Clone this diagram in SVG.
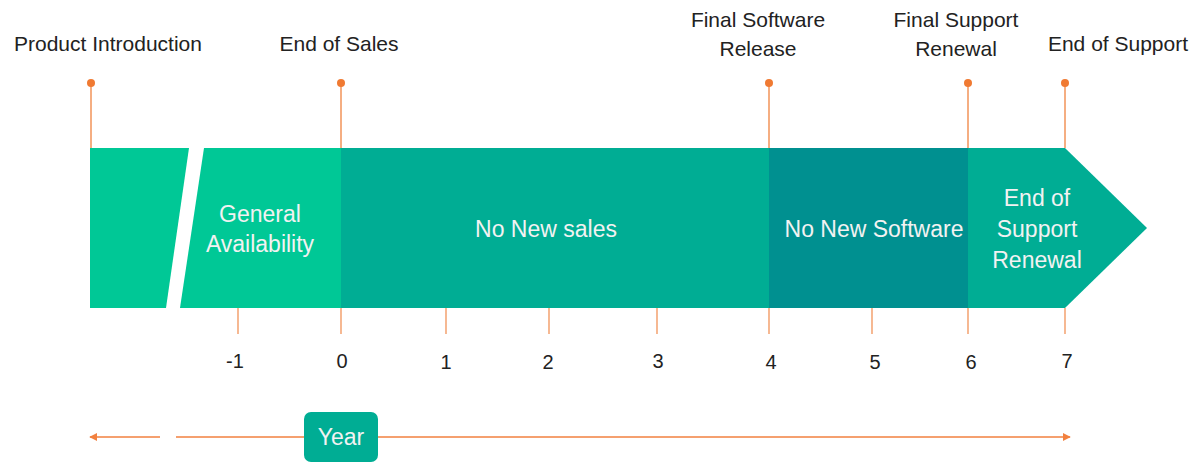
<svg xmlns="http://www.w3.org/2000/svg" width="1198" height="463" viewBox="0 0 1198 463">
<defs>
<style>
.lbl{font-family:"Liberation Sans",Arial,sans-serif;font-size:21px;fill:#222;text-anchor:middle}
.in{font-family:"Liberation Sans",Arial,sans-serif;font-size:23px;fill:#F2F2F2;text-anchor:middle}
.num{font-family:"Liberation Sans",Arial,sans-serif;font-size:20px;fill:#222;text-anchor:middle}
.pin{stroke:#F29358;stroke-width:1.5;fill:none}
.dot{fill:#F07A32}
.tick{stroke:#F29358;stroke-width:1.3}
.axis{stroke:#F2813F;stroke-width:1.5;fill:none}
</style>
<marker id="ah" viewBox="0 0 10 10" refX="9" refY="5" markerWidth="8" markerHeight="8" markerUnits="userSpaceOnUse" orient="auto-start-reverse">
<path d="M0,0 L10,5 L0,10 z" fill="#F2813F"/>
</marker>
</defs>
<rect width="1198" height="463" fill="#fff"/>

<g id="band">
<g id="node-intro"><polygon points="90,148 189,148 166,308 90,308" fill="#00C896"/></g>
<g id="node-ga"><polygon points="204,148 341,148 341,308 180,308" fill="#00C896"/>
<text class="in" x="260" y="222">General</text><text class="in" x="260" y="252">Availability</text></g>
<g id="node-nosales"><rect x="341" y="148" width="428" height="160" fill="#00AD94"/>
<text class="in" x="546" y="237">No New sales</text></g>
<g id="node-nosoftware"><rect x="769" y="148" width="199" height="160" fill="#009090"/>
<text class="in" x="874" y="237">No New Software</text></g>
<g id="node-eosr"><polygon points="968,148 1065,148 1147,228 1065,308 968,308" fill="#00AD94"/>
<text class="in" x="1037" y="206">End of</text><text class="in" x="1037" y="237">Support</text><text class="in" x="1037" y="268">Renewal</text></g>
</g>

<g id="milestones">
<g id="m-intro"><line class="pin" x1="91" y1="83" x2="91" y2="148"/><circle class="dot" cx="91" cy="83" r="4"/><text class="lbl" x="108" y="51">Product Introduction</text></g>
<g id="m-eos"><line class="pin" x1="341" y1="83" x2="341" y2="148"/><circle class="dot" cx="341" cy="83" r="4"/><text class="lbl" x="339" y="51">End of Sales</text></g>
<g id="m-fsr"><line class="pin" x1="769" y1="83" x2="769" y2="148"/><circle class="dot" cx="769" cy="83" r="4"/><text class="lbl" x="758" y="27">Final Software</text><text class="lbl" x="758" y="56">Release</text></g>
<g id="m-fsup"><line class="pin" x1="968" y1="83" x2="968" y2="148"/><circle class="dot" cx="968" cy="83" r="4"/><text class="lbl" x="956" y="27">Final Support</text><text class="lbl" x="956" y="56">Renewal</text></g>
<g id="m-eosup"><line class="pin" x1="1065" y1="83" x2="1065" y2="148" stroke="#F6A774"/><circle class="dot" cx="1065" cy="83" r="4"/><text class="lbl" x="1118" y="51">End of Support</text></g>
</g>

<g id="ticks">
<line class="tick" x1="238" y1="308" x2="238" y2="334"/>
<line class="tick" x1="341" y1="308" x2="341" y2="334"/>
<line class="tick" x1="446" y1="308" x2="446" y2="334"/>
<line class="tick" x1="549" y1="308" x2="549" y2="334"/>
<line class="tick" x1="657" y1="308" x2="657" y2="334"/>
<line class="tick" x1="769" y1="308" x2="769" y2="334"/>
<line class="tick" x1="872" y1="308" x2="872" y2="334"/>
<line class="tick" x1="968" y1="308" x2="968" y2="334"/>
<line class="tick" x1="1065" y1="308" x2="1065" y2="334" stroke="#F6A774"/>
<text class="num" x="235" y="368">-1</text>
<text class="num" x="342" y="368">0</text>
<text class="num" x="446" y="369">1</text>
<text class="num" x="548" y="369">2</text>
<text class="num" x="658" y="368">3</text>
<text class="num" x="771" y="369">4</text>
<text class="num" x="875" y="369">5</text>
<text class="num" x="971" y="369">6</text>
<text class="num" x="1067" y="368">7</text>
</g>

<g id="connectors">
<line class="axis" x1="160" y1="437" x2="90" y2="437" marker-end="url(#ah)"/>
<line class="axis" x1="176" y1="437" x2="1070" y2="437" marker-end="url(#ah)"/>
</g>

<g id="node-year">
<rect x="304" y="412" width="74" height="50" rx="7" fill="#00AD94"/>
<text class="in" x="341" y="445">Year</text>
</g>
</svg>
